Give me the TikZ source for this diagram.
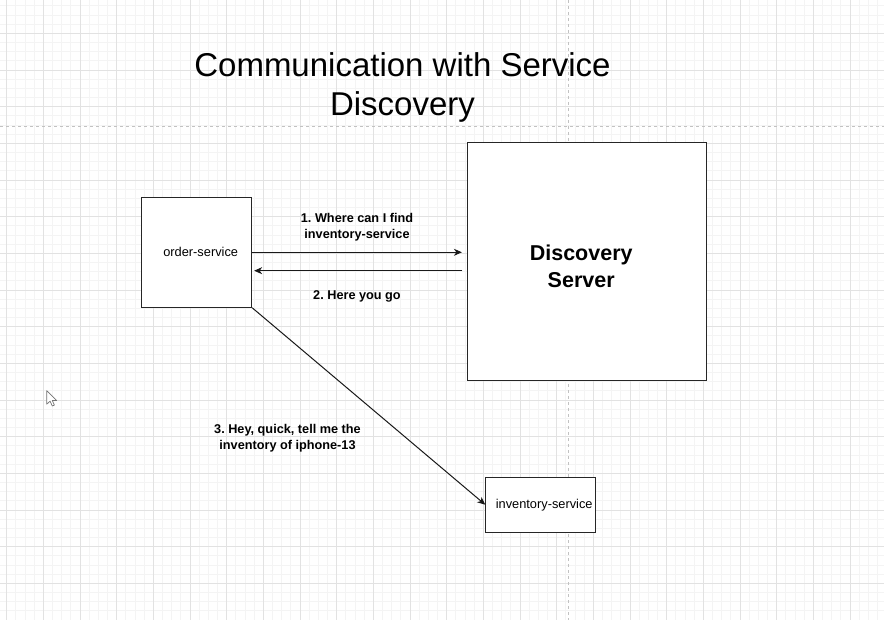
\documentclass[tikz,border=0pt]{standalone}
\usepackage{fontspec}
\setmainfont{Liberation Sans}
\usetikzlibrary{arrows.meta,positioning}
\definecolor{minorgray}{HTML}{F4F4F4}
\definecolor{majorgray}{HTML}{E2E2E2}
\definecolor{pagegray}{HTML}{C2C2C2}
\frenchspacing
\begin{document}
\begin{tikzpicture}[x=1pt,y=-1pt,
    box/.style={draw=black!85,line width=0.9pt,fill=white,rectangle,inner sep=0pt},
    msg/.style={draw=black!90,line width=1pt,-{Stealth[length=8pt,width=7pt,inset=2.5pt]}},
    note/.style={font=\fontsize{12.7}{16}\selectfont\bfseries,align=center,inner sep=0pt}]
        %% Canvas
        \useasboundingbox (0,0) rectangle (884,620);
        \fill[white] (0,0) rectangle (884,620);
        %% Grid
        \foreach \i in {0,...,97} \draw[minorgray,line width=0.8pt] ({-2.5+9.1667*\i},0) -- ({-2.5+9.1667*\i},620);
        \foreach \j in {0,...,68} \draw[minorgray,line width=0.8pt] (0,{-3.333+9.1667*\j}) -- (884,{-3.333+9.1667*\j});
        \foreach \i in {0,...,24} \draw[majorgray,line width=0.8pt] ({6.667+36.667*\i},0) -- ({6.667+36.667*\i},620);
        \foreach \j in {1,...,17} \draw[majorgray,line width=0.8pt] (0,{-3.333+36.667*\j}) -- (884,{-3.333+36.667*\j});
        %% Page breaks
        \draw[pagegray,line width=0.8pt,dash pattern=on 3pt off 3pt] (0,126) -- (884,126);
        \draw[pagegray,line width=0.8pt,dash pattern=on 3pt off 3pt] (568.5,0) -- (568.5,620);
        %% Title
        \node[align=center,inner sep=0pt,font=\fontsize{33}{39}\selectfont] (title) at (402.5,87.5) {Communication with Service\\Discovery};
        %% Services
        \node[box,minimum width=110pt,minimum height=110pt,font=\fontsize{12.8}{15}\selectfont] (order) at (196.7,252.3) {\hspace{8pt}order-service};
        \node[box,minimum width=238.7pt,minimum height=237.7pt] (disc) at (586.7,261.2) {};
        \node[align=center,inner sep=0pt,font=\fontsize{21.5}{27}\selectfont\bfseries] (discname) at (581.2,266.5) {Discovery\\Server};
        \node[box,minimum width=110pt,minimum height=55.3pt,font=\fontsize{12.8}{15}\selectfont] (inv) at (540.7,504.7) {\hspace{7pt}inventory-service};
        %% Messages
        \coordinate (back) at (462.3,270.7);
        \draw[msg,shorten >=5pt] (order.east) -- (order.east -| disc.west);
        \draw[msg,shorten >=2pt] (back) -- (back -| order.east);
        \draw[msg] (order.south east) -- (inv.west);
        \node[note] (ask) at (357,227) {1. Where can I find\\inventory-service};
        \node[note] (reply) at (357,296) {2. Here you go};
        \node[note] (query) at (287.5,438) {3. Hey, quick, tell me the\\inventory of iphone-13};
        %% Cursor
        \draw[black!55,fill=white,line width=0.7pt,line join=round] (46.7,390.7) -- ++(0,13.5) -- ++(3.4,-3) -- ++(2.2,4.8) -- ++(2.1,-0.9) -- ++(-2.1,-4.6) -- ++(4.4,0) -- cycle;
    \end{tikzpicture}
\end{document}
